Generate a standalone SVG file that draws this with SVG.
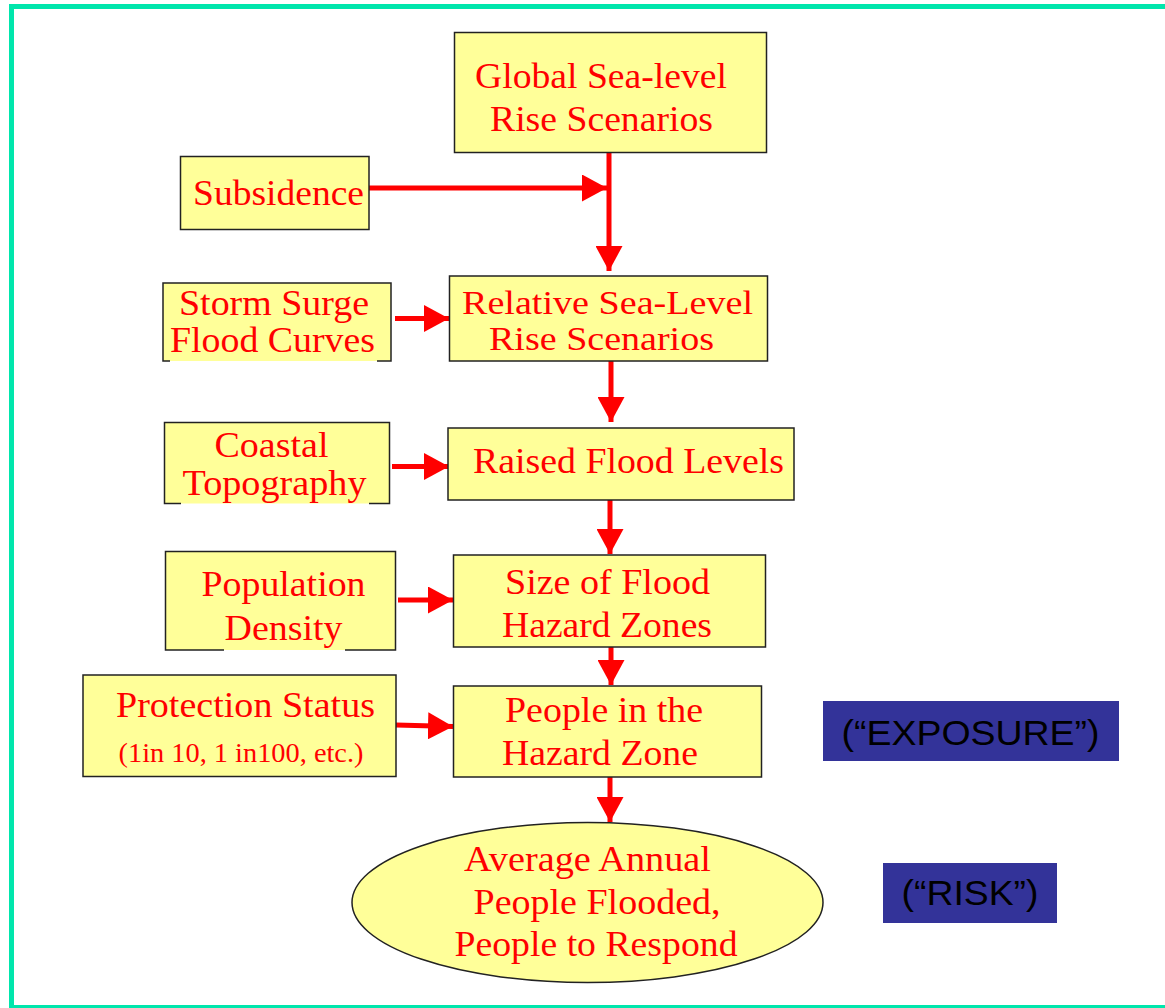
<svg xmlns="http://www.w3.org/2000/svg" width="1165" height="1008" viewBox="0 0 1165 1008">
  <defs>
    <marker id="ah" viewBox="0 0 25 27" refX="25" refY="13.5" markerWidth="25" markerHeight="27" markerUnits="userSpaceOnUse" orient="auto">
      <path d="M0,0 L25,13.5 L0,27 Z" fill="#FF0000"/>
    </marker>
    <style>
      .box { fill: #FFFF99; stroke: #222222; stroke-width: 1.5; }
      .fill { fill: #FFFF99; stroke: none; }
      .edge { fill: none; stroke: #222222; stroke-width: 1.5; }
      .t { font-family: "Liberation Serif", "Times New Roman", serif; font-size: 35px; fill: #FF0000; }
      .tc { font-family: "Liberation Serif", "Times New Roman", serif; font-size: 33px; fill: #FF0000; }
      .ts { font-family: "Liberation Serif", "Times New Roman", serif; font-size: 28px; fill: #FF0000; }
      .tag { fill: #333399; }
      .tt { font-family: "Liberation Sans", Arial, sans-serif; font-size: 35px; fill: #000000; }
      .c { fill: none; stroke: #FF0000; stroke-width: 5; marker-end: url(#ah); }
    </style>
  </defs>
  <rect x="0" y="0" width="1165" height="1008" fill="#FFFFFF"/>
  <rect x="11.5" y="6.5" width="1170" height="1001" fill="none" stroke="#00E6AC" stroke-width="5"/>

  <g id="connectors">
    <path class="c" d="M369,188 L607,188"/>
    <path class="c" d="M609,152 L609,271"/>
    <path class="c" d="M395,318.5 L449,318.5"/>
    <path class="c" d="M611,361 L611,422"/>
    <path class="c" d="M392,466.5 L449,466.5"/>
    <path class="c" d="M610,500 L610,554"/>
    <path class="c" d="M398,600 L453,600"/>
    <path class="c" d="M611,647 L611,685"/>
    <path class="c" d="M396,725 L453,726.5"/>
    <path class="c" d="M610,777 L610,822"/>
  </g>

  <g id="global">
    <rect class="box" x="454.5" y="32.5" width="312" height="120"/>
    <text class="t" x="475" y="88" textLength="252" lengthAdjust="spacingAndGlyphs">Global Sea-level</text>
    <text class="t" x="490" y="131" textLength="223" lengthAdjust="spacingAndGlyphs">Rise Scenarios</text>
  </g>

  <g id="subsidence">
    <rect class="box" x="180.5" y="156.5" width="188.5" height="73"/>
    <text class="t" x="193" y="205" textLength="171" lengthAdjust="spacingAndGlyphs">Subsidence</text>
  </g>

  <g id="storm">
    <rect class="fill" x="163" y="283" width="228" height="78"/>
    <path class="edge" d="M170,361 L163,361 L163,283 L391,283 L391,361 L377,361"/>
    <text class="t" x="179" y="315" textLength="190" lengthAdjust="spacingAndGlyphs">Storm Surge</text>
    <text class="t" x="170" y="352" textLength="205" lengthAdjust="spacingAndGlyphs">Flood Curves</text>
  </g>

  <g id="relative">
    <rect class="box" x="449.5" y="276" width="318" height="85"/>
    <text class="tc" x="462" y="314" textLength="291" lengthAdjust="spacingAndGlyphs">Relative Sea-Level</text>
    <text class="tc" x="489" y="350" textLength="225" lengthAdjust="spacingAndGlyphs">Rise Scenarios</text>
  </g>

  <g id="coastal">
    <rect class="fill" x="164.5" y="422.5" width="225" height="81"/>
    <path class="edge" d="M181,503.5 L164.5,503.5 L164.5,422.5 L389.5,422.5 L389.5,503.5 L369,503.5"/>
    <text class="t" x="214.5" y="457" textLength="114" lengthAdjust="spacingAndGlyphs">Coastal</text>
    <text class="t" x="182.5" y="495" textLength="184" lengthAdjust="spacingAndGlyphs">Topography</text>
  </g>

  <g id="raised">
    <rect class="box" x="448" y="428" width="346" height="72"/>
    <text class="t" x="473" y="473" textLength="311" lengthAdjust="spacingAndGlyphs">Raised Flood Levels</text>
  </g>

  <g id="population">
    <rect class="fill" x="165.5" y="551.5" width="230" height="98.5"/>
    <path class="edge" d="M224,650 L165.5,650 L165.5,551.5 L395.5,551.5 L395.5,650 L345,650"/>
    <text class="t" x="201.5" y="596" textLength="164" lengthAdjust="spacingAndGlyphs">Population</text>
    <text class="t" x="224.5" y="640" textLength="118" lengthAdjust="spacingAndGlyphs">Density</text>
  </g>

  <g id="size">
    <rect class="box" x="453.5" y="555" width="312" height="92"/>
    <text class="t" x="505" y="593.5" textLength="205" lengthAdjust="spacingAndGlyphs">Size of Flood</text>
    <text class="t" x="502" y="637" textLength="210" lengthAdjust="spacingAndGlyphs">Hazard Zones</text>
  </g>

  <g id="protection">
    <rect class="box" x="83" y="675" width="313" height="101.5"/>
    <text class="t" x="116" y="717" textLength="259" lengthAdjust="spacingAndGlyphs">Protection Status</text>
    <text class="ts" x="118.5" y="762" textLength="245" lengthAdjust="spacingAndGlyphs">(1in 10, 1 in100, etc.)</text>
  </g>

  <g id="people">
    <rect class="box" x="453.5" y="686" width="308" height="91"/>
    <text class="t" x="505" y="722" textLength="198" lengthAdjust="spacingAndGlyphs">People in the</text>
    <text class="t" x="502" y="765" textLength="196" lengthAdjust="spacingAndGlyphs">Hazard Zone</text>
  </g>

  <g id="average">
    <ellipse class="box" cx="587.5" cy="902.5" rx="235.5" ry="80"/>
    <text class="t" x="464" y="871" textLength="247" lengthAdjust="spacingAndGlyphs">Average Annual</text>
    <text class="t" x="473.5" y="913.5" textLength="247" lengthAdjust="spacingAndGlyphs">People Flooded,</text>
    <text class="t" x="454.5" y="956" textLength="283" lengthAdjust="spacingAndGlyphs">People to Respond</text>
  </g>

  <g id="exposure">
    <rect class="tag" x="823" y="701" width="296" height="60"/>
    <text class="tt" x="841.5" y="745" textLength="258" lengthAdjust="spacingAndGlyphs">(“EXPOSURE”)</text>
  </g>

  <g id="risk">
    <rect class="tag" x="883" y="863" width="174" height="60"/>
    <text class="tt" x="901.5" y="905" textLength="137" lengthAdjust="spacingAndGlyphs">(“RISK”)</text>
  </g>
</svg>
